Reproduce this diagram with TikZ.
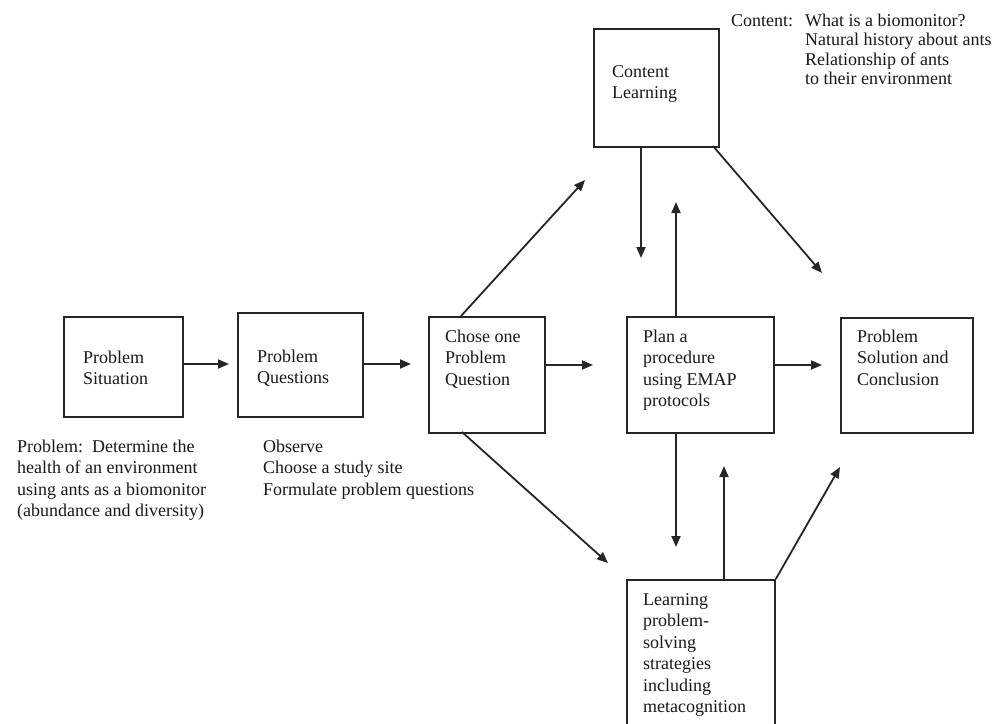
\documentclass[tikz,border=0pt]{standalone}
\usepackage{fontspec}
\setmainfont{Liberation Serif}
\usetikzlibrary{arrows.meta}
\newcommand\mylines[1]{\begin{tabular}[t]{@{}l@{}}#1\end{tabular}}
\begin{document}
\begin{tikzpicture}[x=1pt,y=-1pt,
  box/.style={draw=black!85, line width=1.8pt, anchor=north west, inner sep=0pt},
  txt/.style={anchor=base west, inner sep=0pt, text=black!90, font=\fontsize{18}{21.5}\selectfont},
  txttop/.style={txt, font=\fontsize{18}{19.5}\selectfont},
  arr/.style={draw=black!85, line width=1.8pt, -{Triangle[length=11pt,width=9pt]}}]
\useasboundingbox (0,0) rectangle (998,723);
\fill[white] (0,0) rectangle (998,723);
\clip (0,0) rectangle (998,723);
% boxes
\node[box, minimum width=119pt, minimum height=100pt] (ps) at (63,316) {};
\node[box, minimum width=125pt, minimum height=104pt] (pq) at (237,312) {};
\node[box, minimum width=116pt, minimum height=116pt] (ch) at (428,316) {};
\node[box, minimum width=147pt, minimum height=116pt] (pl) at (626,316) {};
\node[box, minimum width=132pt, minimum height=115pt] (so) at (840,317) {};
\node[box, minimum width=125pt, minimum height=118pt] (cl) at (593,28) {};
\node[box, minimum width=148pt, minimum height=170pt] (lp) at (626,579) {};
% box texts
\node[txt] (tps) at (83,363) {\mylines{Problem\\Situation}};
\node[txt] (tpq) at (257,362) {\mylines{Problem\\Questions}};
\node[txt] (tch) at (445,342) {\mylines{Chose one\\Problem\\Question}};
\node[txt] (tpl) at (643,342) {\mylines{Plan a\\procedure\\using EMAP\\protocols}};
\node[txt] (tso) at (857,342) {\mylines{Problem\\Solution and\\Conclusion}};
\node[txt] (tcl) at (612,77) {\mylines{Content\\Learning}};
\node[txt] (tlp) at (643,605) {\mylines{Learning\\problem-\\solving\\strategies\\including\\metacognition}};
% notes
\node[txt] (n1) at (17,452) {\mylines{Problem:\ \ Determine the\\health of an environment\\using ants as a biomonitor\\(abundance and diversity)}};
\node[txt] (n2) at (263,452) {\mylines{Observe\\Choose a study site\\Formulate problem questions}};
\node[txttop] (n3a) at (731,26) {Content:};
\node[txttop] (n3) at (805,26) {\mylines{What is a biomonitor?\\Natural history about ants\\Relationship of ants\\to their environment}};
% arrow end points
\coordinate (e1) at (229,364);
\coordinate (e2) at (411,364);
\coordinate (e3) at (593,365);
\coordinate (e4) at (822,365);
\coordinate (s5) at (461,316);
\coordinate (e5) at (585,180);
\coordinate (s6) at (462,432);
\coordinate (e6) at (608,563);
\coordinate (e7) at (641,258);
\coordinate (e8) at (676,202);
\coordinate (s9) at (713,146);
\coordinate (e9) at (822,273);
\coordinate (e10) at (676,547);
\coordinate (e11) at (724,466);
\coordinate (e12) at (840,467);
% arrows
\draw[arr] (ps.east |- e1) -- (e1);
\draw[arr] (pq.east |- e2) -- (e2);
\draw[arr] (ch.east |- e3) -- (e3);
\draw[arr] (pl.east |- e4) -- (e4);
\draw[arr] (s5) -- (e5);
\draw[arr] (s6) -- (e6);
\draw[arr] (cl.south -| e7) -- (e7);
\draw[arr] (pl.north -| e8) -- (e8);
\draw[arr] (s9) -- (e9);
\draw[arr] (pl.south -| e10) -- (e10);
\draw[arr] (lp.north -| e11) -- (e11);
\draw[arr] (lp.north east) -- (e12);
\end{tikzpicture}
\end{document}
